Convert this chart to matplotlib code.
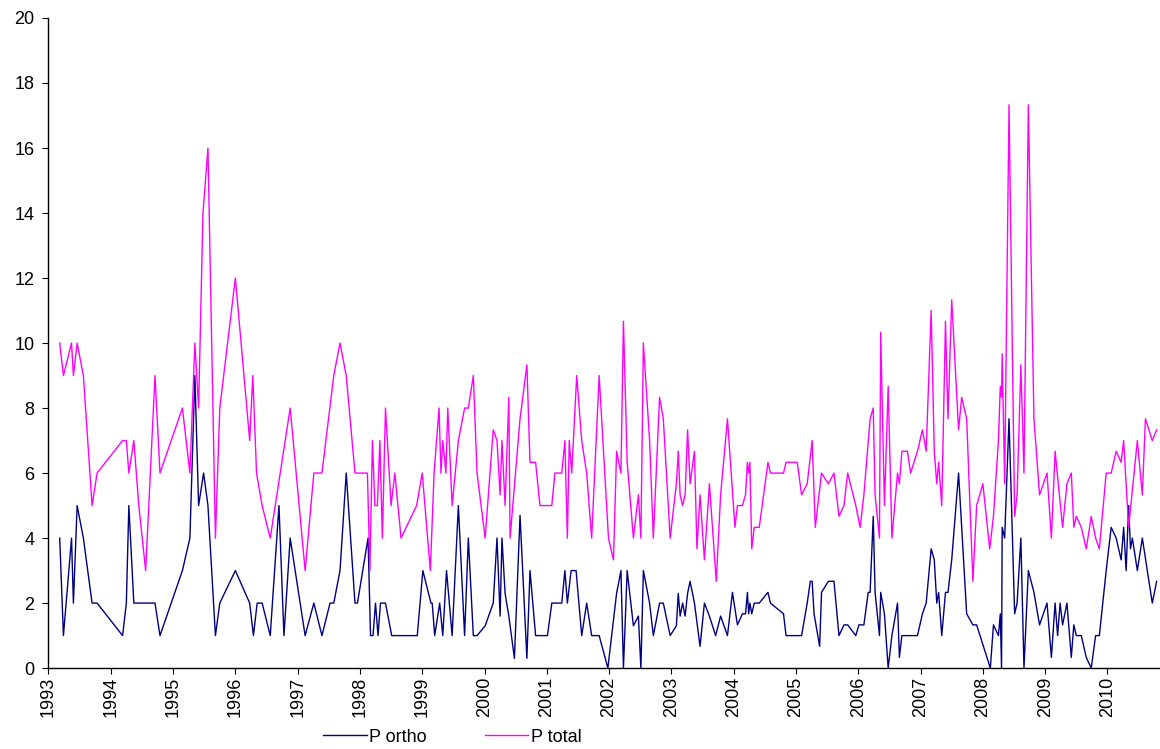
import numpy as np
import matplotlib
matplotlib.use('Agg')
import matplotlib.pyplot as plt

plt.rcParams['font.family'] = ['Liberation Sans', 'DejaVu Sans']

# P ortho (decimal year, value)
ortho_years = [
    1993.18, 1993.24, 1993.37, 1993.40, 1993.46, 1993.56, 1993.70, 1993.78,
    1994.19, 1994.25, 1994.29, 1994.37, 1994.71, 1994.79, 1995.15, 1995.27,
    1995.35, 1995.41, 1995.49, 1995.56, 1995.68, 1995.75, 1996.00, 1996.23,
    1996.29, 1996.35, 1996.43, 1996.56, 1996.70, 1996.78, 1996.88, 1997.12,
    1997.26, 1997.39, 1997.52, 1997.58, 1997.68, 1997.78, 1997.92, 1997.96,
    1998.13, 1998.17, 1998.21, 1998.25, 1998.29, 1998.33, 1998.41, 1998.51,
    1998.92, 1999.01, 1999.14, 1999.16, 1999.20, 1999.28, 1999.33, 1999.39,
    1999.48, 1999.58, 1999.68, 1999.74, 1999.82, 1999.88, 2000.01, 2000.14,
    2000.20, 2000.25, 2000.28, 2000.33, 2000.39, 2000.48, 2000.57, 2000.68,
    2000.73, 2000.82, 2001.01, 2001.08, 2001.24, 2001.29, 2001.33, 2001.39,
    2001.47, 2001.56, 2001.64, 2001.72, 2001.84, 2001.98, 2002.12, 2002.19,
    2002.23, 2002.29, 2002.39, 2002.47, 2002.51, 2002.55, 2002.65, 2002.71,
    2002.81, 2002.87, 2002.98, 2003.08, 2003.11, 2003.14, 2003.18, 2003.22,
    2003.26, 2003.30, 2003.37, 2003.46, 2003.53, 2003.61, 2003.71, 2003.79,
    2003.90, 2003.98, 2004.06, 2004.14, 2004.19, 2004.22, 2004.24, 2004.26,
    2004.29, 2004.33, 2004.41, 2004.55, 2004.59, 2004.80, 2004.84, 2005.09,
    2005.18, 2005.23, 2005.26, 2005.29, 2005.38, 2005.41, 2005.52, 2005.61,
    2005.69, 2005.77, 2005.83, 2005.96, 2006.01, 2006.09, 2006.16, 2006.19,
    2006.24, 2006.27, 2006.34, 2006.36, 2006.42, 2006.48, 2006.54, 2006.63,
    2006.66, 2006.70, 2006.95, 2007.03, 2007.09, 2007.17, 2007.22, 2007.26,
    2007.29, 2007.34, 2007.40, 2007.44, 2007.50, 2007.61, 2007.74, 2007.84,
    2007.90, 2008.12, 2008.17, 2008.25, 2008.28, 2008.30, 2008.31, 2008.35,
    2008.42, 2008.51, 2008.55, 2008.61, 2008.66, 2008.73, 2008.82, 2008.91,
    2009.03, 2009.10, 2009.16, 2009.20, 2009.24, 2009.28, 2009.35, 2009.42,
    2009.46, 2009.50, 2009.58, 2009.66, 2009.74, 2009.81, 2009.87, 2009.98,
    2010.06, 2010.14, 2010.22, 2010.26, 2010.30, 2010.34, 2010.37, 2010.40,
    2010.48, 2010.56, 2010.64, 2010.72, 2010.79,
]
ortho_vals = [
    4, 1, 4, 2, 5, 4, 2, 2,
    1, 2, 5, 2, 2, 1, 3, 4,
    9, 5, 6, 5, 1, 2, 3, 2,
    1, 2, 2, 1, 5, 1, 4, 1,
    2, 1, 2, 2, 3, 6, 2, 2,
    4, 1, 1, 2, 1, 2, 2, 1,
    1, 3, 2, 2, 1, 2, 1, 3,
    1, 5, 1, 4, 1, 1, 1.3, 2,
    4, 1.6, 4, 2.3, 1.6, 0.3, 4.7, 0.3,
    3, 1, 1, 2, 2, 3, 2, 3,
    3, 1, 2, 1, 1, 0, 2.3, 3,
    0, 3, 1.3, 1.6, 0, 3, 2, 1,
    2, 2, 1, 1.3, 2.3, 1.6, 2, 1.6,
    2.3, 2.67, 2, 0.67, 2, 1.6, 1, 1.6,
    1, 2.33, 1.33, 1.67, 1.67, 2.33, 1.67, 2,
    1.67, 2, 2, 2.33, 2, 1.67, 1, 1,
    2, 2.67, 2.67, 1.67, 0.67, 2.33, 2.67, 2.67,
    1, 1.33, 1.33, 1, 1.33, 1.33, 2.33, 2.33,
    4.67, 2.33, 1, 2.33, 1.67, 0, 1, 2,
    0.33, 1, 1, 1.67, 2, 3.67, 3.33, 2,
    2.33, 1, 2.33, 2.33, 3.33, 6, 1.67, 1.33,
    1.33, 0, 1.33, 1, 1.67, 0, 4.33, 4,
    7.67, 1.67, 2, 4, 0, 3, 2.33, 1.33,
    2, 0.33, 2, 1, 2, 1.33, 2, 0.33,
    1.33, 1, 1, 0.33, 0, 1, 1, 3,
    4.33, 4, 3.33, 4.33, 3, 5, 3.67, 4,
    3, 4, 3, 2, 2.67,
]

# P total (decimal year, value)
total_years = [
    1993.18, 1993.24, 1993.37, 1993.40, 1993.46, 1993.56, 1993.70, 1993.78,
    1994.19, 1994.25, 1994.29, 1994.37, 1994.45, 1994.56, 1994.71, 1994.79,
    1995.15, 1995.27, 1995.35, 1995.41, 1995.48, 1995.56, 1995.68, 1995.75,
    1996.00, 1996.23, 1996.28, 1996.34, 1996.43, 1996.56, 1996.88, 1997.12,
    1997.26, 1997.39, 1997.58, 1997.68, 1997.78, 1997.92, 1998.12, 1998.16,
    1998.20, 1998.24, 1998.28, 1998.32, 1998.36, 1998.41, 1998.50, 1998.56,
    1998.66, 1998.91, 1999.00, 1999.13, 1999.19, 1999.27, 1999.30, 1999.33,
    1999.38, 1999.41, 1999.48, 1999.58, 1999.68, 1999.74, 1999.82, 1999.88,
    2000.01, 2000.14, 2000.20, 2000.25, 2000.28, 2000.33, 2000.39, 2000.41,
    2000.57, 2000.68, 2000.73, 2000.82, 2000.89, 2001.08, 2001.13, 2001.24,
    2001.29, 2001.33, 2001.36, 2001.40, 2001.48, 2001.56, 2001.64, 2001.72,
    2001.84, 2001.99, 2002.07, 2002.12, 2002.19, 2002.23, 2002.29, 2002.39,
    2002.47, 2002.51, 2002.55, 2002.65, 2002.71, 2002.81, 2002.87, 2002.98,
    2003.08, 2003.11, 2003.14, 2003.18, 2003.22, 2003.26, 2003.30, 2003.37,
    2003.41, 2003.46, 2003.53, 2003.61, 2003.72, 2003.79, 2003.90, 2004.02,
    2004.06, 2004.14, 2004.19, 2004.22, 2004.24, 2004.26, 2004.29, 2004.33,
    2004.41, 2004.55, 2004.59, 2004.80, 2004.84, 2005.02, 2005.09, 2005.18,
    2005.26, 2005.31, 2005.37, 2005.41, 2005.52, 2005.61, 2005.69, 2005.77,
    2005.83, 2005.96, 2006.03, 2006.09, 2006.19, 2006.24, 2006.27, 2006.34,
    2006.36, 2006.42, 2006.48, 2006.54, 2006.63, 2006.66, 2006.70, 2006.79,
    2006.84, 2006.95, 2007.03, 2007.09, 2007.17, 2007.22, 2007.26, 2007.29,
    2007.34, 2007.40, 2007.44, 2007.50, 2007.61, 2007.66, 2007.74, 2007.84,
    2007.90, 2008.00, 2008.11, 2008.17, 2008.25, 2008.28, 2008.30, 2008.31,
    2008.35, 2008.42, 2008.51, 2008.55, 2008.61, 2008.66, 2008.73, 2008.82,
    2008.91, 2009.03, 2009.10, 2009.16, 2009.28, 2009.35, 2009.42, 2009.46,
    2009.50, 2009.58, 2009.66, 2009.74, 2009.81, 2009.87, 2009.98, 2010.06,
    2010.14, 2010.22, 2010.26, 2010.34, 2010.48, 2010.56, 2010.61, 2010.72,
    2010.79,
]
total_vals = [
    10, 9, 10, 9, 10, 9, 5, 6,
    7, 7, 6, 7, 5, 3, 9, 6,
    8, 6, 10, 8, 14, 16, 4, 8,
    12, 7, 9, 6, 5, 4, 8, 3,
    6, 6, 9, 10, 9, 6, 6, 3,
    7, 5, 5, 7, 4, 8, 5, 6,
    4, 5, 6, 3, 6, 8, 6, 7,
    6, 8, 5, 7, 8, 8, 9, 6,
    4, 7.33, 7, 5.33, 7, 5, 8.33, 4,
    7.67, 9.33, 6.33, 6.33, 5, 5, 6, 6,
    7, 4, 7, 6, 9, 7, 6, 4,
    9, 4, 3.33, 6.67, 6, 10.67, 6.33, 4,
    5.33, 4, 10, 7, 4, 8.33, 7.67, 4,
    5.67, 6.67, 5.33, 5, 5.33, 7.33, 5.67, 6.67,
    3.67, 5.33, 3.33, 5.67, 2.67, 5.33, 7.67, 4.33,
    5, 5, 5.33, 6.33, 6, 6.33, 3.67, 4.33,
    4.33, 6.33, 6, 6, 6.33, 6.33, 5.33, 5.67,
    7, 4.33, 5.33, 6, 5.67, 6, 4.67, 5,
    6, 5, 4.33, 5.33, 7.67, 8, 5.33, 4,
    10.33, 5, 8.67, 4, 6, 5.67, 6.67, 6.67,
    6, 6.67, 7.33, 6.67, 11, 6.67, 5.67, 6.33,
    5, 10.67, 7.67, 11.33, 7.33, 8.33, 7.67, 2.67,
    5, 5.67, 3.67, 4.67, 7, 8.67, 8.33, 9.67,
    5.67, 17.33, 4.67, 5.33, 9.33, 6, 17.33, 7.67,
    5.33, 6, 4, 6.67, 4.33, 5.67, 6, 4.33,
    4.67, 4.33, 3.67, 4.67, 4, 3.67, 6, 6,
    6.67, 6.33, 7, 4.33, 7, 5.33, 7.67, 7,
    7.33,
]

year_ticks = list(range(1993, 2011))

fig = plt.figure(figsize=(11.6, 7.49), dpi=100)
ax = fig.add_axes([0.0418, 0.108, 0.958, 0.868])

ax.plot(ortho_years, ortho_vals, color='#000080', lw=1.0, label='P ortho')
ax.plot(total_years, total_vals, color='#FF00FF', lw=1.0, label='P total')

ax.set_xlim(1993, 2010.84)
ax.set_ylim(0, 20)
ax.set_yticks(range(0, 21, 2))
ax.set_xticks(year_ticks)
ax.set_xticklabels([str(y) for y in year_ticks], rotation=90)
ax.tick_params(axis='both', labelsize=13, direction='out', length=4, width=0.8)
ax.tick_params(axis='x', pad=2)
ax.tick_params(axis='y', pad=6)

for side in ['top', 'right']:
    ax.spines[side].set_visible(False)
ax.spines['left'].set_linewidth(1.0)
ax.spines['bottom'].set_linewidth(1.0)

fig.legend(loc='center', bbox_to_anchor=(0.39, 0.016), ncol=2, frameon=False,
           fontsize=13, handlelength=2.4, columnspacing=3.2, handletextpad=0.15)

fig.savefig('out.png', dpi=100)
